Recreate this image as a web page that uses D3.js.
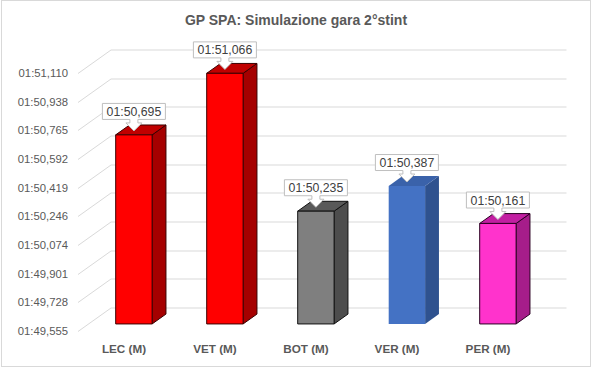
<!DOCTYPE html>
<html>
<head>
<meta charset="utf-8">
<script src="https://cdn.jsdelivr.net/npm/d3@7"></script>
<style>
    body { margin: 0; background: #fff; }
    text { font-family: "Liberation Sans", Arial, sans-serif; }
</style>
</head>
<body>
<div id="chart"></div>
<script>
// lap times in seconds (1:50,695 -> 110.695)
var drivers = ["LEC (M)", "VET (M)", "BOT (M)", "VER (M)", "PER (M)"];
var lapTimes = [110.695, 111.066, 110.235, 110.387, 110.161];
var tickValues = [109.5552, 109.728, 109.9008, 110.0736, 110.2464, 110.4192, 110.592, 110.7648, 110.9376, 111.1104];
var tickLabels = ["01:49,555", "01:49,728", "01:49,901", "01:50,074", "01:50,246",
    "01:50,419", "01:50,592", "01:50,765", "01:50,938", "01:51,110"];
var barColors = [
    {front: "#ff0000", side: "#a50000", top: "#c00000", edge: "#3a0000"},
    {front: "#ff0000", side: "#a50000", top: "#c00000", edge: "#3a0000"},
    {front: "#7f7f7f", side: "#4d4d4d", top: "#595959", edge: "#111111"},
    {front: "#4472c4", side: "#2f528f", top: "#3a62aa", edge: "none"},
    {front: "#ff33cc", side: "#a61d8a", top: "#c21fa2", edge: "#2a0022"}
];

var WIDTH = 592,
    HEIGHT = 368,
    DX = 33,      // depth offset of the back wall
    DY = 23.5,
    Z0 = 0.3,     // bar front / back in depth units
    Z1 = 0.72;

var svg = d3.select("#chart").append("svg")
    .attr("width", WIDTH)
    .attr("height", HEIGHT);

svg.append("rect")
    .attr("x", 1.5).attr("y", 0.5)
    .attr("width", 589).attr("height", 366)
    .attr("fill", "#fff")
    .attr("stroke", "#d9d9d9");

svg.append("text")
    .attr("x", 296).attr("y", 25)
    .attr("text-anchor", "middle")
    .attr("font-size", "14px")
    .attr("font-weight", "bold")
    .attr("fill", "#595959")
    .text("GP SPA: Simulazione gara 2°stint");

var x = d3.scaleBand()
    .domain(drivers)
    .range([78.5, 533.5])
    .paddingInner(0.6)
    .paddingOuter(0.3);

var y = d3.scaleLinear()
    .domain([tickValues[0], tickValues[tickValues.length - 1]])
    .range([331, 73]);

function px(xv, z) { return xv + z * DX; }
function py(yv, z) { return yv - z * DY; }

// back wall gridlines + side wall diagonals
var grid = svg.append("g").attr("stroke", "#d9d9d9").attr("fill", "none");
tickValues.forEach(function (t) {
    var yy = Math.round(y(t)) + 0.5;
    grid.append("path")
        .attr("d", "M" + px(78, 0) + "," + yy +
            "L" + px(78, 1) + "," + py(yy, 1) +
            "L" + px(533.5, 1) + "," + py(yy, 1));
});

svg.append("g").selectAll("text")
    .data(tickValues)
    .join("text")
    .attr("x", 68)
    .attr("y", function (d) { return y(d); })
    .attr("dy", "0.35em")
    .attr("text-anchor", "end")
    .attr("font-size", "11.3px")
    .attr("fill", "#595959")
    .text(function (d, i) { return tickLabels[i]; });

svg.append("g").selectAll("text")
    .data(drivers)
    .join("text")
    .attr("x", function (d) { return x(d) + x.bandwidth() / 2; })
    .attr("y", 353)
    .attr("text-anchor", "middle")
    .attr("font-size", "11.7px")
    .attr("font-weight", "bold")
    .attr("fill", "#595959")
    .text(function (d) { return d; });

// bars
var base = y.domain()[0];
var bars = svg.append("g").selectAll("g")
    .data(drivers)
    .join("g")
    .attr("stroke-width", 1)
    .attr("stroke-linejoin", "round");

bars.each(function (d, i) {
    var g = d3.select(this),
        c = barColors[i],
        x0 = x(d), x1 = x(d) + x.bandwidth(),
        yt = y(lapTimes[i]), yb = y(base);
    function pt(xx, yy, z) { return px(xx, z) + "," + py(yy, z); }

    g.append("path")  // side
        .attr("d", "M" + pt(x1, yt, Z0) + "L" + pt(x1, yt, Z1) + "L" + pt(x1, yb, Z1) + "L" + pt(x1, yb, Z0) + "Z")
        .attr("fill", c.side).attr("stroke", c.edge);
    g.append("path")  // top
        .attr("d", "M" + pt(x0, yt, Z0) + "L" + pt(x0, yt, Z1) + "L" + pt(x1, yt, Z1) + "L" + pt(x1, yt, Z0) + "Z")
        .attr("fill", c.top).attr("stroke", c.edge);
    g.append("path")  // front
        .attr("d", "M" + pt(x0, yt, Z0) + "L" + pt(x1, yt, Z0) + "L" + pt(x1, yb, Z0) + "L" + pt(x0, yb, Z0) + "Z")
        .attr("fill", c.front).attr("stroke", c.edge);
});

// data labels with a down-arrow callout
function fmtTime(s) {
    var m = Math.floor(s / 60),
        rest = s - m * 60,
        sec = Math.floor(rest),
        ms = Math.round((rest - sec) * 1000);
    return d3.format("02")(m) + ":" + d3.format("02")(sec) + "," + d3.format("03")(ms);
}

var labels = svg.append("g").selectAll("g")
    .data(drivers)
    .join("g")
    .attr("transform", function (d, i) {
        var cx = px(x(d) + x.bandwidth() / 2, Z0);
        var tip = py(y(lapTimes[i]), (Z0 + Z1) / 2);
        return "translate(" + cx + "," + tip + ")";
    });

labels.append("path")
    .attr("d", "M-31.5,-26.5H31.5V-10.5H4V-7H8L0,1L-8,-7H-4V-10.5H-31.5Z")
    .attr("fill", "#fff")
    .attr("stroke", "#bfbfbf");

labels.append("text")
    .attr("y", -18.3)
    .attr("dy", "0.35em")
    .attr("text-anchor", "middle")
    .attr("font-size", "12.3px")
    .attr("fill", "#404040")
    .text(function (d, i) { return fmtTime(lapTimes[i]); });
</script>
</body>
</html>
